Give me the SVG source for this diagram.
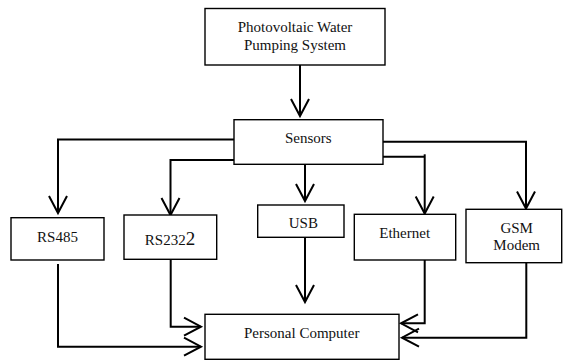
<svg xmlns="http://www.w3.org/2000/svg" width="563" height="360" viewBox="0 0 563 360">
<style>
.box{fill:#fff;stroke:#000;stroke-width:1.4}
.t{font-family:'Liberation Serif','Times New Roman','DejaVu Serif',serif;font-size:15px;fill:#111;text-anchor:middle}
.c{fill:none;stroke:#000;stroke-width:2}
</style>
<defs>
<marker id="ah" markerUnits="userSpaceOnUse" markerWidth="24" markerHeight="24" viewBox="-20 -12 24 24" refX="0" refY="0" orient="auto" overflow="visible">
<path d="M-17,-9 L0,0 L-17,9" fill="none" stroke="#000" stroke-width="2"/>
</marker>
</defs>
<rect width="563" height="360" fill="#fff"/>
<g id="connectors">
<path class="c" d="M300,65 V116" marker-end="url(#ah)"/>
<path class="c" d="M234,139.5 H58 V213" marker-end="url(#ah)"/>
<path class="c" d="M234,160 H170.5 V215" marker-end="url(#ah)"/>
<path class="c" d="M305,164.3 V201" marker-end="url(#ah)"/>
<path class="c" d="M383,156.7 H424.7"/>
<path class="c" d="M424.7,154.3 V213.5" marker-end="url(#ah)"/>
<path class="c" d="M383,141.7 H526 V208.5" marker-end="url(#ah)"/>
<path class="c" d="M58,264 V346.7 H201" marker-end="url(#ah)"/>
<path class="c" d="M170.7,259.3 V326.7 H201" marker-end="url(#ah)"/>
<path class="c" d="M305,237.3 V302" marker-end="url(#ah)"/>
<path class="c" d="M424.7,260 V323.3 H401" marker-end="url(#ah)"/>
<path class="c" d="M526.3,262.7 V337.7 H402" marker-end="url(#ah)"/>
</g>
<g id="pv">
<rect class="box" x="205" y="8.5" width="180" height="56.5"/>
<text class="t" font-family="Liberation Serif, serif" x="295" y="32.3">Photovoltaic Water</text>
<text class="t" font-family="Liberation Serif, serif" x="295" y="50">Pumping System</text>
</g>
<g id="sensors">
<rect class="box" x="234" y="119.7" width="149" height="44.6"/>
<text class="t" font-family="Liberation Serif, serif" x="308.3" y="143.3">Sensors</text>
</g>
<g id="rs485">
<rect class="box" x="11" y="217.7" width="93" height="42.3"/>
<text class="t" font-family="Liberation Serif, serif" x="57.5" y="242">RS485</text>
</g>
<g id="rs2322">
<rect class="box" x="124" y="215" width="92.7" height="44.3"/>
<text class="t" font-family="Liberation Serif, serif" x="170" y="245">RS232<tspan font-size="19px">2</tspan></text>
</g>
<g id="usb">
<rect class="box" x="257.7" y="205" width="86.3" height="32.3"/>
<text class="t" font-family="Liberation Serif, serif" x="303.3" y="228.3">USB</text>
</g>
<g id="ethernet">
<rect class="box" x="354.3" y="214.3" width="101.4" height="45.7"/>
<text class="t" font-family="Liberation Serif, serif" x="404.7" y="238.3">Ethernet</text>
</g>
<g id="gsm">
<rect class="box" x="466" y="209.3" width="95.7" height="53.4"/>
<text class="t" font-family="Liberation Serif, serif" x="516.7" y="233.3">GSM</text>
<text class="t" font-family="Liberation Serif, serif" x="516.7" y="250">Modem</text>
</g>
<g id="pc">
<rect class="box" x="205" y="314.3" width="194" height="45"/>
<text class="t" font-family="Liberation Serif, serif" x="301.7" y="338.3">Personal Computer</text>
</g>
</svg>
